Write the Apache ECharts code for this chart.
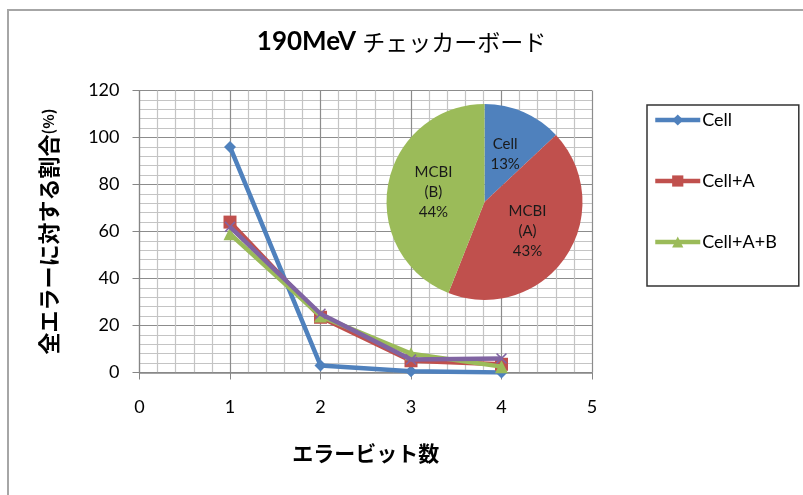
<!DOCTYPE html>
<html>
<head>
<meta charset="utf-8">
<script src="https://cdn.jsdelivr.net/npm/echarts@6/dist/echarts.min.js"></script>
<style>html,body{margin:0;padding:0;background:#fff;}#c{width:803px;height:495px;}</style>
</head>
<body>
<div id="c"></div>
<script>
// ---- data ----
const xValues = [1, 2, 3, 4];
const cellValues = [96, 3, 0.5, 0];
const cellAValues = [64, 23.5, 5, 3.5];
const cellABValues = [59, 24, 8, 2.5];
const purpleValues = [62, 25, 5.5, 6];
const seriesNames = ['Cell', 'Cell+A', 'Cell+A+B', ''];
const pieNames = ['Cell', 'MCBI\n(A)', 'MCBI\n(B)'];
const pieValues = [13, 43, 44];
const yTicks = [0, 20, 40, 60, 80, 100, 120];
const xTicks = [0, 1, 2, 3, 4, 5];

const latin = 'Lato, "Noto Sans CJK JP", sans-serif';
const jp = '"Noto Sans CJK JP", sans-serif';
const colors = ['#4F81BD', '#C0504D', '#9BBB59', '#8064A2'];
const symbols = ['diamond', 'rect', 'triangle',
  'path://M0,1 L1,0 L5,4 L9,0 L10,1 L6,5 L10,9 L9,10 L5,6 L1,10 L0,9 L4,5 Z'];
const symbolSizes = [12, 13, 13, 11];
const allValues = [cellValues, cellAValues, cellABValues, purpleValues];

const lineSeries = allValues.map((vals, i) => ({
  type: 'line',
  name: seriesNames[i] || 'extra',
  data: xValues.map((x, j) => [x, vals[j]]),
  symbol: symbols[i],
  symbolSize: symbolSizes[i],
  showSymbol: true,
  lineStyle: { color: colors[i], width: 4.5 },
  itemStyle: { color: colors[i] },
  z: 3 + i,
  animation: false
}));

const chart = echarts.init(document.getElementById('c'), null, { renderer: 'canvas' });
chart.setOption({
  animation: false,
  backgroundColor: '#fff',
  title: {
    text: '{a|190MeV}{b|チェッカーボード}',
    left: 'center',
    top: 24,
    textStyle: {
      rich: {
        a: { fontFamily: latin, fontWeight: 'bold', fontSize: 26, color: '#000', padding: [0, 6, 0, 0] },
        b: { fontFamily: jp, fontWeight: 'normal', fontSize: 23, color: '#000' }
      }
    }
  },
  graphic: [{
    type: 'rect',
    shape: { x: 8, y: 10, width: 900, height: 600 },
    style: { fill: 'none', stroke: '#a6a6a6', lineWidth: 2 },
    silent: true
  }],
  legend: {
    data: ['Cell', 'Cell+A', 'Cell+A+B'],
    orient: 'vertical',
    left: 647,
    top: 105,
    itemWidth: 45,
    itemHeight: 14,
    itemGap: 43,
    padding: [6, 22, 35, 6],
    borderColor: '#333',
    borderWidth: 1.5,
    lineStyle: { width: 4.5 },
    textStyle: { fontFamily: latin, fontSize: 18, color: '#000', padding: [0, 0, 0, -3] }
  },
  grid: { left: 139.5, top: 90.5, right: 211, bottom: 122.5, containLabel: false },
  xAxis: {
    type: 'value',
    min: xTicks[0], max: xTicks[xTicks.length - 1], interval: 1,
    name: 'エラービット数',
    nameLocation: 'middle',
    nameGap: 70,
    nameTextStyle: { fontFamily: jp, fontSize: 21, fontWeight: 'bold', color: '#000' },
    axisLine: { show: true, lineStyle: { color: '#868686', width: 1.5 } },
    axisTick: { show: true, length: 7, lineStyle: { color: '#868686' } },
    axisLabel: { margin: 26, fontFamily: latin, fontSize: 18, color: '#000' },
    splitLine: { show: true, lineStyle: { color: '#8c8c8c', width: 1.2 } },
    minorTick: { show: false, splitNumber: 5 },
    minorSplitLine: { show: true, lineStyle: { color: '#c4c4c4', width: 1.2 } }
  },
  yAxis: {
    type: 'value',
    min: yTicks[0], max: yTicks[yTicks.length - 1], interval: 20,
    name: '{m|全エラーに対する割合}{s|(%)}',
    nameLocation: 'middle',
    nameGap: 80,
    nameRotate: 90,
    nameTextStyle: {
      rich: {
        m: { fontFamily: jp, fontSize: 22, fontWeight: 'bold', color: '#000' },
        s: { fontFamily: jp, fontSize: 15, fontWeight: 'bold', color: '#000' }
      }
    },
    axisLine: { show: true, lineStyle: { color: '#868686', width: 1.2 } },
    axisTick: { show: true, length: 7, lineStyle: { color: '#868686' } },
    axisLabel: { margin: 20, fontFamily: latin, fontSize: 18, color: '#000' },
    splitLine: { show: true, lineStyle: { color: '#8c8c8c', width: 1.2 } },
    minorTick: { show: false, splitNumber: 5 },
    minorSplitLine: { show: true, lineStyle: { color: '#c4c4c4', width: 1.2 } }
  },
  series: lineSeries.concat([{
    type: 'pie',
    name: 'pie',
    center: [484.5, 202],
    radius: [0, 98],
    startAngle: 90,
    clockwise: true,
    z: 2,
    animation: false,
    legendHoverLink: false,
    label: {
      show: true,
      position: 'inside',
      formatter: '{b}\n{d}%',
      fontFamily: latin,
      fontSize: 15,
      lineHeight: 20,
      color: '#1a1a1a'
    },
    labelLine: { show: false },
    itemStyle: { borderWidth: 0 },
    data: pieNames.map((n, i) => ({ name: n, value: pieValues[i], itemStyle: { color: colors[i] } }))
  }])
});
</script>
</body>
</html>
